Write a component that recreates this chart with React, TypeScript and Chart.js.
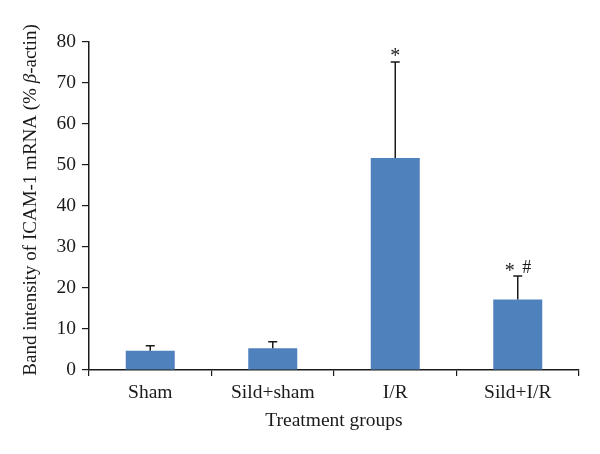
import React, { useEffect, useRef } from "react";
import { Chart, registerables } from "chart.js";

Chart.register(...registerables);

const categories = ["Sham", "Sild+sham", "I/R", "Sild+I/R"];
const means = [4.7, 5.3, 51.7, 17.2];
const errors = [1.2, 1.6, 23.4, 5.7];
const starMarks = ["", "", "*", "*"];
const hashMarks = ["", "", "", "#"];
const yTickValues = [0, 10, 20, 30, 40, 50, 60, 70, 80];

const FONT = "'Liberation Serif', 'DejaVu Serif', serif";
const BAR_COLOR = "#4F81BD";

const errorBarPlugin = {
  id: "errorBars",
  afterDatasetsDraw(chart: any) {
    const ctx = chart.ctx;
    const yScale = chart.scales.y;
    const meta = chart.getDatasetMeta(0);
    ctx.save();
    meta.data.forEach((el: any, i: number) => {
      const x = el.x;
      const yBar = yScale.getPixelForValue(means[i]);
      const yTop = yScale.getPixelForValue(means[i] + errors[i]);
      ctx.strokeStyle = "#1a1a1a";
      ctx.lineWidth = 1.5;
      ctx.beginPath();
      ctx.moveTo(x, yBar);
      ctx.lineTo(x, yTop);
      ctx.moveTo(x - 4.5, yTop);
      ctx.lineTo(x + 4.5, yTop);
      ctx.stroke();
      ctx.fillStyle = "#1a1a1a";
      ctx.font = "20px " + FONT;
      ctx.textAlign = "center";
      ctx.textBaseline = "alphabetic";
      if (starMarks[i] && hashMarks[i]) {
        ctx.fillText(starMarks[i], x - 8, yTop + 1);
        ctx.font = "18px " + FONT;
        ctx.fillText(hashMarks[i], x + 9, yTop - 3);
      } else if (starMarks[i]) {
        ctx.fillText(starMarks[i], x, yTop);
      }
    });
    ctx.restore();
  },
};

const yTitlePlugin = {
  id: "yTitle",
  afterDraw(chart: any) {
    const ctx = chart.ctx;
    const parts = [
      { t: "Band intensity of ICAM-1 mRNA (% ", f: "19px " + FONT },
      { t: "β", f: "italic 19px " + FONT },
      { t: "-actin)", f: "19px " + FONT },
    ];
    ctx.save();
    let total = 0;
    parts.forEach((p) => {
      ctx.font = p.f;
      total += ctx.measureText(p.t).width;
    });
    ctx.translate(36, 200);
    ctx.rotate(-Math.PI / 2);
    ctx.fillStyle = "#1a1a1a";
    ctx.textBaseline = "alphabetic";
    ctx.textAlign = "left";
    let x = -total / 2;
    parts.forEach((p) => {
      ctx.font = p.f;
      ctx.fillText(p.t, x, 0);
      x += ctx.measureText(p.t).width;
    });
    ctx.restore();
  },
};

export default function App() {
  const canvasRef = useRef<HTMLCanvasElement | null>(null);

  useEffect(() => {
    if (!canvasRef.current) return;
    const chart = new Chart(canvasRef.current, {
      type: "bar",
      data: {
        labels: categories,
        datasets: [
          {
            data: means,
            backgroundColor: BAR_COLOR,
            borderWidth: 0,
            barPercentage: 0.4,
            categoryPercentage: 1,
          },
        ],
      },
      options: {
        responsive: false,
        animation: false,
        layout: { padding: { left: 0, right: 21, top: 42, bottom: 0 } },
        plugins: {
          legend: { display: false },
          tooltip: { enabled: false },
        },
        scales: {
          x: {
            afterFit: (s: any) => {
              s.height = 84;
            },
            grid: {
              offset: true,
              drawOnChartArea: false,
              drawTicks: true,
              tickLength: 6,
              color: "#1a1a1a",
              lineWidth: 1.2,
            },
            border: { color: "#1a1a1a", width: 1.5 },
            ticks: {
              color: "#1a1a1a",
              font: { family: FONT, size: 19.5 },
              padding: 5,
            },
            title: {
              display: true,
              text: "Treatment groups",
              color: "#1a1a1a",
              font: { family: FONT, size: 19.5 },
              padding: { top: 0, bottom: 21 },
            },
          },
          y: {
            min: 0,
            max: 80,
            afterFit: (s: any) => {
              s.width = 89;
            },
            afterBuildTicks: (s: any) => {
              s.ticks = yTickValues.map((v) => ({ value: v }));
            },
            grid: {
              drawOnChartArea: false,
              drawTicks: true,
              tickLength: 7,
              color: "#1a1a1a",
              lineWidth: 1.2,
            },
            border: { color: "#1a1a1a", width: 1.5 },
            ticks: {
              color: "#1a1a1a",
              font: { family: FONT, size: 19.5 },
              padding: 6,
            },
          },
        },
      },
      plugins: [errorBarPlugin, yTitlePlugin],
    });
    return () => chart.destroy();
  }, []);

  return (
    <div style={{ position: "fixed", left: 0, top: 0, width: 600, height: 454, background: "#fff" }}>
      <canvas ref={canvasRef} width={600} height={454} />
    </div>
  );
}
